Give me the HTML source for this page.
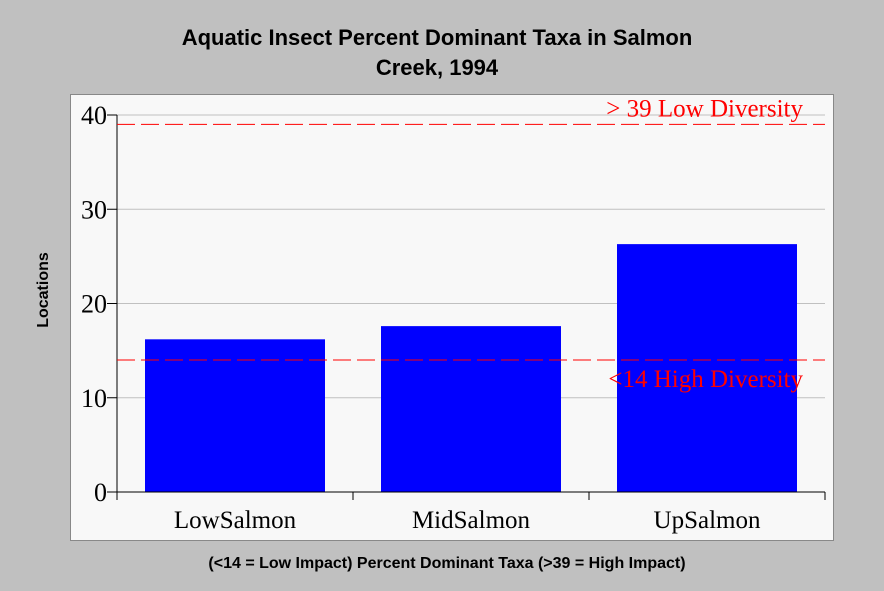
<!DOCTYPE html>
<html><head><meta charset="utf-8"><style>
body{margin:0;background:#c0c0c0;width:884px;height:591px;overflow:hidden}
svg{display:block}
</style></head><body>
<svg width="884" height="591" xmlns="http://www.w3.org/2000/svg">
<rect x="0" y="0" width="884" height="591" fill="#c0c0c0"/>
<rect x="70.5" y="94.5" width="763" height="446" fill="#f8f8f8" stroke="#888" stroke-width="1"/>
<text x="437" y="45" text-anchor="middle" font-family="Liberation Sans, sans-serif" font-weight="bold" font-size="22">Aquatic Insect Percent Dominant Taxa in Salmon</text>
<text x="437" y="75" text-anchor="middle" font-family="Liberation Sans, sans-serif" font-weight="bold" font-size="22">Creek, 1994</text>
<text transform="translate(48,290) rotate(-90)" text-anchor="middle" font-family="Liberation Sans, sans-serif" font-weight="bold" font-size="16">Locations</text>
<text x="447" y="568" text-anchor="middle" font-family="Liberation Sans, sans-serif" font-weight="bold" font-size="16">(&lt;14 = Low Impact) Percent Dominant Taxa (&gt;39 = High Impact)</text>
<g id="plot"></g>
</svg>
<script>
const categories = ["LowSalmon", "MidSalmon", "UpSalmon"];
const values = [16.2, 17.6, 26.3];
const yTicks = [0, 10, 20, 30, 40];
const thresholds = [39, 14];
const thresholdLabels = ["> 39 Low Diversity", "<14 High Diversity"];

const X0 = 117, X1 = 825, Y0 = 492, Y40 = 115;
const ns = "http://www.w3.org/2000/svg";
const g = document.getElementById('plot');
function y(v){ return Y0 - (Y0 - Y40) * v / 40; }
const band = (X1 - X0) / categories.length;
function mk(tag, attrs, text){
  const e = document.createElementNS(ns, tag);
  for (const k in attrs) e.setAttribute(k, attrs[k]);
  if (text !== undefined) e.textContent = text;
  g.appendChild(e);
  return e;
}
yTicks.forEach(t => {
  if (t > 0) {
    const gl = mk('line', {x1: X0, x2: X1, y1: y(t), y2: y(t), stroke: '#c0c0c0', 'stroke-width': 1});
    
    
  }
  const tk = mk('line', {x1: X0 - 10, x2: X0, y1: y(t), y2: y(t), stroke: '#000'});
  
  
  const lb = mk('text', {x: X0 - 10, y: y(t) + 9, 'text-anchor': 'end', 'font-family': 'Liberation Serif, serif', 'font-size': 26}, String(t));
  
  
});
categories.forEach((c, i) => {
  const bx = X0 + band * i + 28;
  const bw = band - 56;
  const r = mk('rect', {x: bx, y: y(values[i]), width: bw, height: Y0 - y(values[i]), fill: '#0000ff'});
  
  
  const lb = mk('text', {x: X0 + band * (i + 0.5), y: 528, 'text-anchor': 'middle', 'font-family': 'Liberation Serif, serif', 'font-size': 25}, c);
  
  
});
for (let i = 0; i <= categories.length; i++) {
  const tx = X0 + band * i;
  const tk = mk('line', {x1: tx, x2: tx, y1: Y0, y2: Y0 + 8, stroke: '#000'});
  
  
}
const ya = mk('line', {x1: X0, x2: X0, y1: y(40), y2: Y0, stroke: '#000'});


const xa = mk('line', {x1: X0, x2: X1, y1: Y0, y2: Y0, stroke: '#000'});


thresholds.forEach((t, i) => {
  const l = mk('line', {x1: X0, x2: X1, y1: y(t), y2: y(t), stroke: '#ff0000', 'stroke-dasharray': '18,6'});
  
  
  const ty = i === 0 ? y(t) - 8 : y(t) + 27;
  const lb = mk('text', {x: 803, y: ty, 'text-anchor': 'end', fill: '#ff0000', 'font-family': 'Liberation Serif, serif', 'font-size': 25}, thresholdLabels[i]);
  
  
});
</script>
</body></html>
